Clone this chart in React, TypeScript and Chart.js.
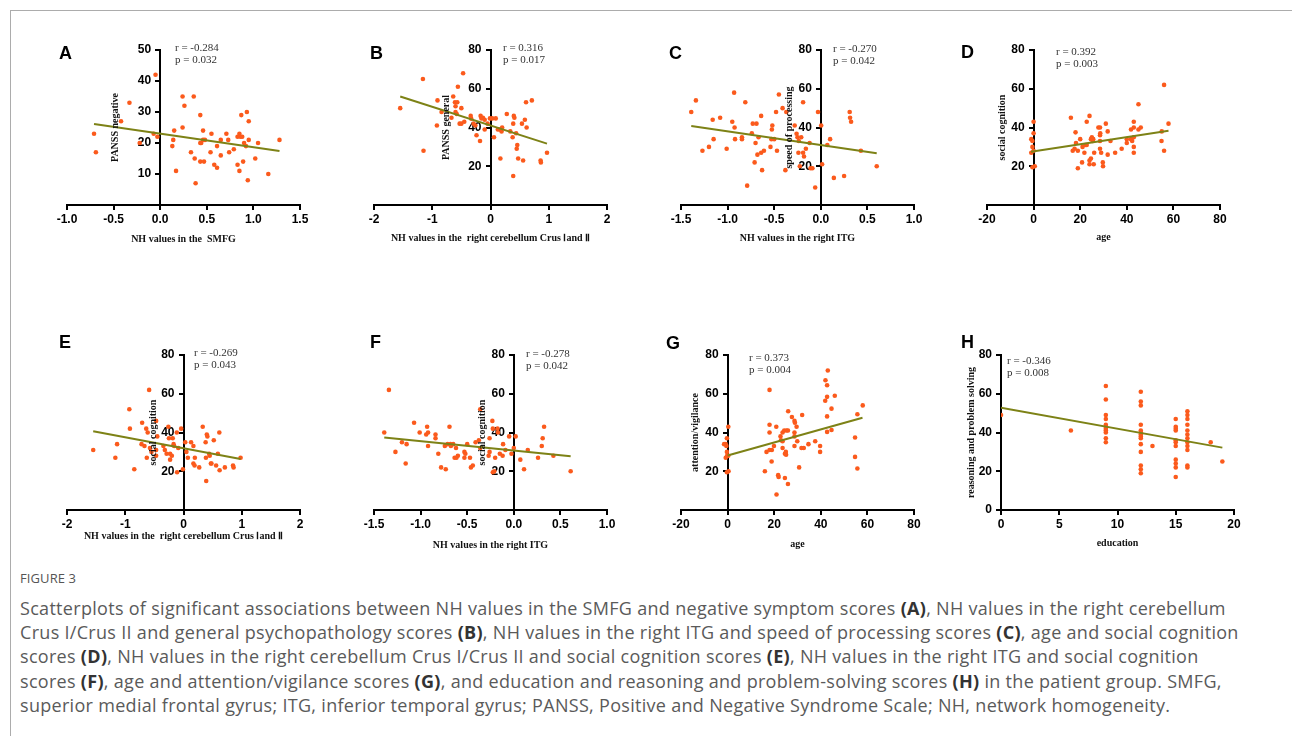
import React, { useEffect, useRef } from 'react';
import { Chart, registerables } from 'chart.js';
Chart.register(...registerables);

// ---------- data ----------
const pointsA = [[-0.05,42],[-0.33,33],[-0.42,27],[-0.71,23],[-0.69,17],[-0.07,23],[-0.03,22],[-0.22,20],[0.24,35],[0.36,35],[0.26,32],[0.43,29],[0.24,25],[0.15,24],[0.14,21],[0.13,19],[0.17,11],[0.33,17],[0.37,15],[0.38,7],[0.43,14],[0.47,14],[0.43,20],[0.44,20],[0.46,24],[0.46,21],[0.48,21],[0.55,23],[0.54,17],[0.58,13],[0.61,12],[0.61,19],[0.65,21],[0.65,16],[0.71,23],[0.73,21],[0.74,17],[0.79,18],[0.83,22],[0.85,23],[0.86,22],[0.88,22],[0.87,29],[0.83,13],[0.85,11],[0.89,14],[0.90,20],[0.92,19],[0.93,30],[0.95,27],[0.95,21],[0.94,8],[1.02,15],[1.05,20],[1.16,10],[1.28,21]];
const fitA = [[-0.71,26.1],[1.28,17.4]];

const pointsB = [[-1.55,50],[-1.16,65],[-1.15,28],[-0.92,41],[-0.91,54],[-0.84,48],[-0.67,45],[-0.64,56],[-0.61,53],[-0.60,51],[-0.60,48],[-0.57,53],[-0.56,61],[-0.53,42],[-0.50,50],[-0.50,42],[-0.47,68],[-0.45,43],[-0.58,47],[-0.34,46],[-0.33,44.5],[-0.29,42],[-0.26,41],[-0.24,36],[-0.18,33],[-0.17,46],[-0.155,44.7],[-0.13,45],[-0.10,44],[-0.10,39],[-0.05,42],[-0.01,44.7],[0.03,44.7],[0.06,35],[0.09,44.7],[0.126,39],[0.16,39],[0.17,24],[0.19,38],[0.20,40],[0.28,47],[0.34,38],[0.38,35],[0.39,15],[0.39,42],[0.40,46],[0.41,45],[0.44,37],[0.45,29],[0.46,31],[0.475,24],[0.54,42],[0.56,23],[0.59,44],[0.61,53],[0.62,40],[0.71,54],[0.86,23],[0.865,22],[0.97,27]];
const fitB = [[-1.55,56],[0.97,31.7]];

const pointsC = [[-1.39,48],[-1.34,54],[-1.27,28],[-1.2,30],[-1.16,44],[-1.15,34],[-1.08,45],[-1.01,29],[-0.95,43],[-0.93,58],[-0.925,40],[-0.92,34],[-0.846,34],[-0.846,35],[-0.81,53],[-0.79,10],[-0.74,37],[-0.73,42],[-0.71,22],[-0.70,32],[-0.69,42],[-0.68,26],[-0.668,35],[-0.64,27],[-0.64,46],[-0.63,18],[-0.61,28],[-0.54,30],[-0.53,34],[-0.525,39],[-0.52,41],[-0.50,34],[-0.48,48],[-0.47,28],[-0.45,57],[-0.41,50],[-0.38,18],[-0.37,48],[-0.28,41],[-0.26,36.8],[-0.25,35],[-0.24,27],[-0.236,33],[-0.225,20],[-0.21,35],[-0.19,27],[-0.19,53],[-0.18,25],[-0.16,29],[-0.12,32],[-0.11,19],[-0.09,19],[-0.06,9],[-0.03,48],[0.004,41],[0.014,21],[0.07,31],[0.10,34],[0.14,14],[0.25,15],[0.31,48],[0.314,45],[0.325,43],[0.43,28],[0.60,20]];
const fitC = [[-1.39,40.8],[0.60,26.7]];

const pointsD = [[-1,34],[-0.5,33],[0,37],[0,43],[-0.5,30],[-1,27],[0,28],[-0.5,19.5],[0.5,20],[16,45],[18,37.5],[16.8,28],[17.6,29],[18.2,32],[19,28],[19,19],[20,34],[20.8,22],[21,30],[21.8,27],[22.2,31],[22.8,31],[22.8,43],[24,46],[24,21],[24,23],[24.6,24],[24.6,34],[25,35],[25.4,33],[25.6,34],[26,27],[25.8,21],[27.8,40],[28.5,40],[28.5,36],[28.6,37],[28.5,33],[28.5,29],[29,27],[29.7,22],[29.8,20],[31,42],[31.8,38],[31.8,26],[33,33],[35,27],[37.8,29],[40,34],[40,32],[41.8,34],[41.8,39],[42.3,33],[43,43],[43,40],[43,35],[43,30],[43,27],[45,52],[45,39],[46,40],[54.9,33],[55,38],[56,28],[56,62],[57.9,42]];
const fitD = [[-1.1,27.5],[57.9,38.3]];

const pointsE = [[-1.55,31],[-1.17,27],[-1.14,34],[-0.93,52],[-0.92,42],[-0.845,21],[-0.72,34],[-0.71,45],[-0.67,33],[-0.64,42],[-0.63,27],[-0.615,40],[-0.59,62],[-0.575,32],[-0.55,30],[-0.47,46],[-0.45,38],[-0.47,31],[-0.47,28],[-0.345,33],[-0.32,31],[-0.29,29],[-0.26,43],[-0.25,37],[-0.23,29],[-0.23,26],[-0.2,28],[-0.185,37],[-0.17,34],[-0.16,33],[-0.115,40],[-0.11,19.5],[-0.09,32],[-0.04,42],[-0.01,21],[0.03,35],[0.05,30],[0.075,27],[0.13,35],[0.17,33],[0.17,24],[0.19,23],[0.195,27],[0.27,22],[0.33,43],[0.38,35],[0.40,39],[0.41,38],[0.385,27],[0.39,15],[0.44,29],[0.45,28],[0.47,24],[0.48,24],[0.52,36],[0.56,23],[0.59,29],[0.615,40],[0.62,20.5],[0.71,22],[0.85,23],[0.86,22],[0.98,27]];
const fitE = [[-1.55,40.7],[0.98,26.3]];

const pointsF = [[-1.39,40],[-1.34,62],[-1.27,30],[-1.2,35],[-1.15,34],[-1.16,24],[-1.07,45],[-1.01,40],[-0.94,39],[-0.93,43],[-0.92,40],[-0.92,33],[-0.84,39],[-0.84,37],[-0.81,29],[-0.78,22],[-0.74,33],[-0.73,21],[-0.71,34],[-0.69,43],[-0.68,34],[-0.675,33],[-0.65,34],[-0.635,27],[-0.62,32],[-0.615,27],[-0.60,28],[-0.53,30],[-0.53,27],[-0.52,29],[-0.50,34],[-0.47,27],[-0.46,22],[-0.44,23],[-0.41,35],[-0.375,36],[-0.36,32],[-0.36,52],[-0.27,28],[-0.26,30],[-0.26,37],[-0.23,46],[-0.225,42],[-0.225,19.5],[-0.21,20],[-0.20,27],[-0.175,42],[-0.17,40],[-0.15,29],[-0.12,28],[-0.115,34],[-0.09,31],[-0.05,38],[-0.025,29],[0,32],[0.02,38],[0.07,26],[0.11,21],[0.15,31],[0.26,27],[0.30,33],[0.31,37],[0.325,43],[0.425,28],[0.61,20]];
const fitF = [[-1.39,37.4],[0.61,27.7]];

const pointsG = [[-1.5,34],[-0.8,34],[-0.5,33],[-0.3,37],[-0.8,27],[-0.3,30],[-0.2,28],[0.3,43],[0.3,28],[-0.3,19.5],[0.4,20],[16,20],[16.7,30],[18,62],[18,44],[18,40],[18,31],[19,31],[18.9,25],[19.9,33],[21,8],[20.9,43],[21.7,18],[21.9,17],[22.7,38],[22.9,36],[23.6,40],[23.6,32],[23.6,35.5],[24.3,41],[24.6,29],[24.6,16.5],[25,30],[25.1,28.5],[25.3,41],[26,51],[25.9,41],[25.9,13.4],[27.6,48],[28.7,46],[28.9,45],[28.7,40],[28.7,38],[28.7,33],[29.6,43],[29.9,35.5],[30.7,22],[31.7,32],[32,49],[32.7,32],[34.7,34],[37.6,35.5],[39.7,33],[39.7,30],[42,67],[41.9,56.4],[43,72],[42.7,64.4],[42.7,58.4],[42.7,48.3],[42.7,40.3],[44.6,52.3],[44.6,41.3],[46,59],[54.7,37.4],[54.7,27.4],[55.7,49.4],[55.7,21.4],[58,54]];
const fitG = [[0,28.1],[57.9,47.6]];

const pointsH = [[0,49],[6,41],[9,64],[9,57],[9,49],[9,47],[9,44],[9,43],[9,42],[9,41],[9,40],[9,37],[9,35],[12,61],[12,56],[12,54],[12,44],[12,41],[12,40],[12,39],[12,38],[12,37],[12,34],[12,30],[12,23],[12,21],[12,19],[13,33],[15,47],[15,43],[15,42],[15,41],[15,36],[15,35],[15,33],[15,26],[15,24],[15,22],[15,17],[16,51],[16,49],[16,47],[16,44],[16,41],[16,39],[16,37],[16,35],[16,33],[16,31],[16,23],[16,22],[18,35],[19,25]];
const fitH = [[0,52.8],[19,32.2]];

// tick values
const xTicksA = [-1, -0.5, 0, 0.5, 1, 1.5];
const yTicksA = [0, 10, 20, 30, 40, 50];
const xTicksCrus = [-2, -1, 0, 1, 2];
const xTicksITG = [-1.5, -1, -0.5, 0, 0.5, 1];
const xTicksAge = [-20, 0, 20, 40, 60, 80];
const xTicksEdu = [0, 5, 10, 15, 20];
const yTicks80 = [0, 20, 40, 60, 80];

// stats text
const statsR = ['r = -0.284', 'r = 0.316', 'r = -0.270', 'r = 0.392', 'r = -0.269', 'r = -0.278', 'r = 0.373', 'r = -0.346'];
const statsP = ['p = 0.032', 'p = 0.017', 'p = 0.042', 'p = 0.003', 'p = 0.043', 'p = 0.042', 'p = 0.004', 'p = 0.008'];

const CRUS = 'NH values in the  right cerebellum Crus \u2160and \u2161';

// ---------- layout ----------
const PAD_L = 60, PAD_R = 25, PAD_T = 20, PAD_B = 30, XAX_H = 25;
const PW = 233, PH = 155;
const CW = PAD_L + PW + PAD_R, CH = PAD_T + PH + XAX_H + PAD_B;
const Y_LABEL_SHIFT = 9;

const ORANGE = '#fb5a1c';
const OLIVE = '#7d8216';

type PanelCfg = {
  letter: string; pts: number[][]; fit: number[][]; xt: number[]; yt: number[]; dec: number; showY0: boolean;
  xTitle: string; yTitle: string; left: number; top: number; yTitleDx: number; xTitleDy: number;
  letterX: number; letterY: number; statX: number; statY: number; idx: number;
};

const panels: PanelCfg[] = [
  { idx: 0, letter: 'A', pts: pointsA, fit: fitA, xt: xTicksA, yt: yTicksA, dec: 1, showY0: false, xTitle: 'NH values in the  SMFG', yTitle: 'PANSS negative', left: 67, top: 50, yTitleDx: -45, xTitleDy: 34, letterX: 59, letterY: 53, statX: 175, statY: 48 },
  { idx: 1, letter: 'B', pts: pointsB, fit: fitB, xt: xTicksCrus, yt: yTicks80, dec: 0, showY0: false, xTitle: CRUS, yTitle: 'PANSS general', left: 374, top: 50, yTitleDx: -44, xTitleDy: 33, letterX: 370, letterY: 53, statX: 503, statY: 48 },
  { idx: 2, letter: 'C', pts: pointsC, fit: fitC, xt: xTicksITG, yt: yTicks80, dec: 1, showY0: false, xTitle: 'NH values in the right ITG', yTitle: 'speed of processing', left: 681, top: 50, yTitleDx: -31, xTitleDy: 33, letterX: 669, letterY: 53, statX: 833, statY: 49 },
  { idx: 3, letter: 'D', pts: pointsD, fit: fitD, xt: xTicksAge, yt: yTicks80, dec: 0, showY0: false, xTitle: 'age', yTitle: 'social cognition', left: 987, top: 50, yTitleDx: -31, xTitleDy: 32, letterX: 961, letterY: 52, statX: 1056, statY: 51.5 },
  { idx: 4, letter: 'E', pts: pointsE, fit: fitE, xt: xTicksCrus, yt: yTicks80, dec: 0, showY0: false, xTitle: CRUS, yTitle: 'social cognition', left: 67, top: 355, yTitleDx: -30, xTitleDy: 26, letterX: 59, letterY: 342, statX: 194, statY: 353 },
  { idx: 5, letter: 'F', pts: pointsF, fit: fitF, xt: xTicksITG, yt: yTicks80, dec: 1, showY0: false, xTitle: 'NH values in the right ITG', yTitle: 'social cognition', left: 374, top: 355, yTitleDx: -31, xTitleDy: 35, letterX: 370, letterY: 342, statX: 526, statY: 354 },
  { idx: 6, letter: 'G', pts: pointsG, fit: fitG, xt: xTicksAge, yt: yTicks80, dec: 0, showY0: false, xTitle: 'age', yTitle: 'attention/vigilance', left: 681, top: 355, yTitleDx: -32, xTitleDy: 34, letterX: 666, letterY: 343, statX: 749, statY: 358 },
  { idx: 7, letter: 'H', pts: pointsH, fit: fitH, xt: xTicksEdu, yt: yTicks80, dec: 0, showY0: true, xTitle: 'education', yTitle: 'reasoning and problem solving', left: 1001, top: 355, yTitleDx: -30, xTitleDy: 33, letterX: 961, letterY: 342, statX: 1007, statY: 360.5 },
];

const TICK_FONT = { family: '"Liberation Sans", Arial, Helvetica, sans-serif', size: 12, weight: 'bold' as const };

function Panel({ cfg }: { cfg: PanelCfg }) {
  const ref = useRef<HTMLCanvasElement>(null);
  useEffect(() => {
    const titles = {
      id: 'axisTitles' + cfg.letter,
      beforeDraw(chart: any) {
        // move the labels of the crossing y axis off the axis line (tick + padding)
        const y = chart.scales.y;
        const items = y.getLabelItems(chart.chartArea);
        for (const it of items) {
          if (!it._shifted) {
            it.options.translation[0] -= Y_LABEL_SHIFT;
            it._shifted = true;
          }
        }
      },
      afterDraw(chart: any) {
        const { ctx, chartArea, scales } = chart;
        ctx.save();
        ctx.fillStyle = '#111';
        ctx.font = 'bold 10px "Liberation Serif", "Times New Roman", serif';
        ctx.textAlign = 'center';
        ctx.textBaseline = 'middle';
        ctx.fillText(cfg.xTitle, (chartArea.left + chartArea.right) / 2, chartArea.bottom + cfg.xTitleDy);
        const ax = scales.x.getPixelForValue(0);
        ctx.translate(ax + cfg.yTitleDx, (chartArea.top + chartArea.bottom) / 2);
        ctx.rotate(-Math.PI / 2);
        ctx.fillText(cfg.yTitle, 0, 0);
        ctx.restore();
      },
    };
    const gridOpts = { display: true, drawOnChartArea: false, drawTicks: true, color: '#000', lineWidth: 2 };
    const chart = new Chart(ref.current as HTMLCanvasElement, {
      type: 'scatter',
      data: {
        datasets: [
          {
            data: cfg.pts.map((p) => ({ x: p[0], y: p[1] })),
            backgroundColor: ORANGE,
            borderWidth: 0,
            pointRadius: 2.3,
            order: 1,
          },
          {
            data: cfg.fit.map((p) => ({ x: p[0], y: p[1] })),
            showLine: true,
            borderColor: OLIVE,
            borderWidth: 2,
            pointRadius: 0,
            order: 0,
          } as any,
        ],
      },
      options: {
        animation: false,
        responsive: false,
        maintainAspectRatio: false,
        events: [],
        layout: { padding: { left: PAD_L, right: PAD_R, top: PAD_T, bottom: PAD_B } },
        plugins: { legend: { display: false }, tooltip: { enabled: false } },
        scales: {
          x: {
            type: 'linear',
            position: 'bottom',
            min: cfg.xt[0],
            max: cfg.xt[cfg.xt.length - 1],
            afterBuildTicks: (s: any) => { s.ticks = cfg.xt.map((v) => ({ value: v })); },
            afterFit: (s: any) => { s.height = XAX_H; },
            grid: { ...gridOpts, tickLength: 5 },
            border: { display: true, color: '#000', width: 2 },
            ticks: {
              color: '#000', font: TICK_FONT, padding: 2, maxRotation: 0, autoSkip: false,
              callback: (v: any) => Number(v).toFixed(cfg.dec),
            },
          },
          y: {
            type: 'linear',
            position: { x: 0 } as any,
            min: cfg.yt[0],
            max: cfg.yt[cfg.yt.length - 1],
            afterBuildTicks: (s: any) => { s.ticks = cfg.yt.map((v) => ({ value: v })); },
            grid: { ...gridOpts, tickLength: 4 },
            border: { display: true, color: '#000', width: 2 },
            ticks: {
              color: '#000', font: TICK_FONT, padding: 4, autoSkip: false,
              callback: (v: any) => (Number(v) === 0 && !cfg.showY0 ? '' : String(v)),
            },
          },
        },
      } as any,
      plugins: [titles],
    });
    return () => chart.destroy();
  }, [cfg]);
  return (
    <canvas
      ref={ref}
      width={CW}
      height={CH}
      style={{ position: 'absolute', left: cfg.left - PAD_L, top: cfg.top - PAD_T, width: CW, height: CH }}
    />
  );
}

const captionLines: (string | [string])[][] = [
  ['Scatterplots of significant associations between NH values in the SMFG and negative symptom scores ', ['(A)'], ', NH values in the right cerebellum'],
  ['Crus I/Crus II and general psychopathology scores ', ['(B)'], ', NH values in the right ITG and speed of processing scores ', ['(C)'], ', age and social cognition'],
  ['scores ', ['(D)'], ', NH values in the right cerebellum Crus I/Crus II and social cognition scores ', ['(E)'], ', NH values in the right ITG and social cognition'],
  ['scores ', ['(F)'], ', age and attention/vigilance scores ', ['(G)'], ', and education and reasoning and problem-solving scores ', ['(H)'], ' in the patient group. SMFG,'],
  ['superior medial frontal gyrus; ITG, inferior temporal gyrus; PANSS, Positive and Negative Syndrome Scale; NH, network homogeneity.'],
];
const captionY = [608, 632, 656, 681, 705];

export default function App() {
  return (
    <div style={{ position: 'absolute', left: 0, top: 0, width: 1292, height: 736, background: '#fff', overflow: 'hidden' }}>
      <div style={{ position: 'absolute', left: 10, top: 10, width: 1400, height: 900, borderTop: '1px solid #acacac', borderLeft: '1px solid #acacac' }} />
      {panels.map((p) => (
        <Panel key={p.letter} cfg={p} />
      ))}
      {panels.map((p) => (
        <div key={'L' + p.letter} style={{ position: 'absolute', left: p.letterX, top: p.letterY - 11, fontFamily: '"Liberation Sans", Arial, sans-serif', fontWeight: 'bold', fontSize: 18, lineHeight: '22px', color: '#000' }}>
          {p.letter}
        </div>
      ))}
      {panels.map((p) => (
        <div key={'S' + p.letter} style={{ position: 'absolute', left: p.statX, top: p.statY - 7, fontFamily: '"Liberation Serif", "Times New Roman", serif', fontSize: 11, lineHeight: '12.3px', color: '#333', whiteSpace: 'nowrap' }}>
          <div>{statsR[p.idx]}</div>
          <div>{statsP[p.idx]}</div>
        </div>
      ))}
      <div style={{ position: 'absolute', left: 20, top: 570, fontFamily: '"Open Sans", "Noto Sans", sans-serif', fontSize: 13, lineHeight: '16px', color: '#555', letterSpacing: 0.1 }}>
        FIGURE 3
      </div>
      {captionLines.map((line, i) => (
        <div key={'C' + i} style={{ position: 'absolute', left: 20, top: captionY[i] - 13, fontFamily: '"Open Sans", "Noto Sans", sans-serif', fontSize: 18, lineHeight: '26px', letterSpacing: 0.3, color: '#5a5a5a', whiteSpace: 'nowrap' }}>
          {line.map((seg, j) => (typeof seg === 'string' ? <span key={j}>{seg}</span> : <b key={j} style={{ color: '#333' }}>{seg[0]}</b>))}
        </div>
      ))}
    </div>
  );
}
